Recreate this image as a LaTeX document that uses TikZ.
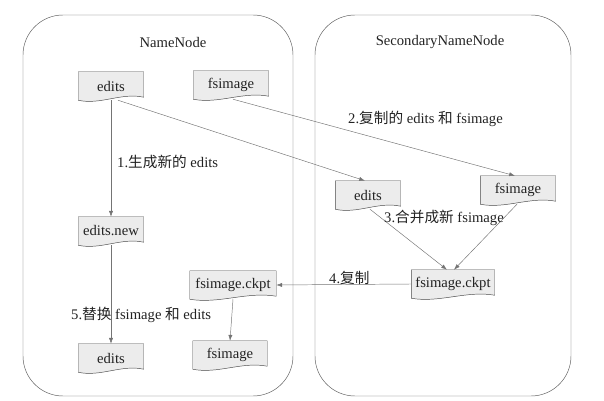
\documentclass[tikz,border=0pt]{standalone}
\usepackage{fontspec}
\setmainfont{Liberation Serif}
\newfontfamily\cjk{Noto Sans CJK SC}
\usetikzlibrary{arrows.meta,calc,backgrounds}
\definecolor{dolguGri}{HTML}{ECECEC}
\definecolor{kenarGri}{HTML}{4A4A4A}
\definecolor{okGri}{HTML}{747474}
\definecolor{kutuGri}{HTML}{5A5A5A}
\definecolor{yaziSiyah}{HTML}{222222}

\begin{document}
\begin{tikzpicture}[x=0.03cm,y=-0.03cm,font=\fontsize{12.5}{15}\selectfont,text=yaziSiyah,
  belge/.style={minimum width=1.95cm,minimum height=0.84cm,inner sep=0pt},
  ok/.style={draw=okGri,-{Latex[length=5pt,width=3.5pt]}},
  etiket/.style={right,inner sep=0pt}]
\useasboundingbox (0,0) rectangle (604,401);
% kutular
\draw[kutuGri,rounded corners=1.2cm] (23,15) rectangle (293,396);
\draw[kutuGri,rounded corners=1.2cm] (315,15) rectangle (571,396);
\node (nnBaslik) at (173,42) {NameNode};
\node (snnBaslik) at (440,42) {SecondaryNameNode};
% belgeler
\node[belge] (eL) at (111,86) {edits};
\node[belge,minimum width=2.25cm] (fL) at (231,85) {fsimage};
\node[belge] (enew) at (111,231) {edits.new};
\node[belge] (eB) at (111,358) {edits};
\node[belge,minimum width=2.58cm] (ckL) at (233,285) {fsimage.ckpt};
\node[belge,minimum width=2.22cm] (fB) at (230,355) {fsimage};
\node[belge] (eR) at (368,195) {edits};
\node[belge,minimum width=2.25cm] (fR) at (518,190) {fsimage};
\node[belge,minimum width=2.49cm] (ckR) at (453,284) {fsimage.ckpt};
\begin{scope}[on background layer]
\foreach \n in {eL,fL,enew,eB,ckL,fB,eR,fR,ckR}
  \draw[kenarGri,fill=dolguGri] (\n.north west) -- (\n.north east) -- ($(\n.south east)+(0,-3)$)
    .. controls ($(\n.south west)!0.667!(\n.south east)+(0,-8)$) and ($(\n.south west)!0.333!(\n.south east)+(0,5)$) .. (\n.south west) -- cycle;
\end{scope}
% oklar
\draw[ok] (eL.south) -- (enew.north);
\draw[ok] ($(eL.south)+(7,0)$) -- ($(eR.north)+(-3,0)$);
\draw[ok] ($(fL.south)+(2,0)$) -- ($(fR.north)+(-3,0)$);
\draw[ok] ($(eR.south)+(2,0)$) -- ($(ckR.north)+(-6,0)$);
\draw[ok] ($(fR.south)+(-1,0)$) -- ($(ckR.north)+(1,0)$);
\draw[ok] (ckR.west) -- (ckL.east);
\draw[ok] (ckL.south) -- (fB.north);
\draw[ok] (enew.south) -- (eB.north);
% etiketler
\node[etiket] (e1) at (117,162) {1.{\cjk 生成新的} edits};
\node[etiket] (e2) at (348,119) {2.{\cjk 复制的} edits {\cjk 和} fsimage};
\node[etiket] (e3) at (384,218) {3.{\cjk 合并成新} fsimage};
\node[etiket] (e4) at (329,278) {4.{\cjk 复制}};
\node[etiket] (e5) at (71,315) {5.{\cjk 替换} fsimage {\cjk 和} edits};
\end{tikzpicture}
\end{document}
